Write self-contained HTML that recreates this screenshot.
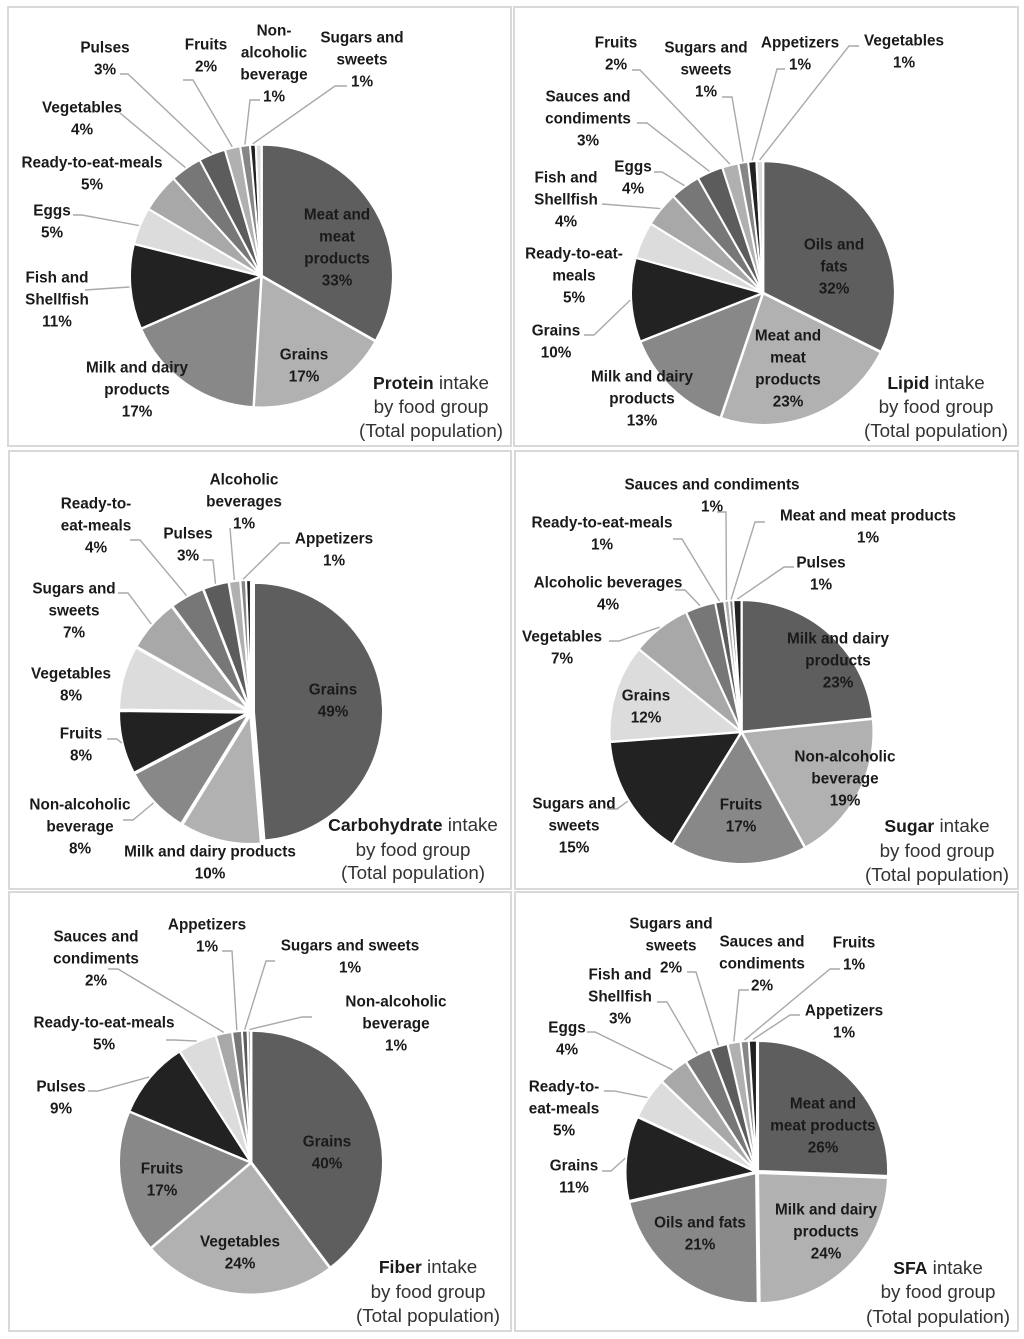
<!DOCTYPE html>
<html lang="en">
<head>
<meta charset="utf-8">
<title>Nutrient intake by food group</title>
<style>
html,body{margin:0;padding:0;background:#fff;width:1024px;height:1339px;overflow:hidden}
svg{display:block;filter:blur(0.35px)}
text{font-family:"Liberation Sans",sans-serif;fill:#1a1a1a}
.lab{font-size:15.3px;font-weight:700;text-anchor:middle}
.ttl{font-size:18.8px;text-anchor:middle;fill:#333}
.ttl tspan{font-weight:700;font-size:17.6px;fill:#1a1a1a}
.panel{fill:#fff;stroke:#d9d9d9;stroke-width:2}
</style>
</head>
<body>
<svg id="figure" width="1024" height="1339" viewBox="0 0 1024 1339" xmlns="http://www.w3.org/2000/svg">
<rect x="0" y="0" width="1024" height="1339" fill="#fff"/>
<rect class="panel" x="8" y="7" width="503" height="439"/>
<rect class="panel" x="514" y="7" width="504" height="439"/>
<rect class="panel" x="9" y="451" width="502" height="438"/>
<rect class="panel" x="515" y="451" width="503" height="438"/>
<rect class="panel" x="9" y="892" width="502" height="439"/>
<rect class="panel" x="515" y="892" width="503" height="439"/>
<g id="chart-protein"></g>
<g id="chart-lipid"></g>
<g id="chart-carbohydrate"></g>
<g id="chart-sugar"></g>
<g id="chart-fiber"></g>
<g id="chart-sfa"></g>
<g><text class="ttl" x="431" y="389"><tspan>Protein</tspan> intake</text><text class="ttl" x="431" y="413">by food group</text><text class="ttl" x="431" y="437">(Total population)</text></g>
<g><text class="ttl" x="936" y="389"><tspan>Lipid</tspan> intake</text><text class="ttl" x="936" y="413">by food group</text><text class="ttl" x="936" y="437">(Total population)</text></g>
<g><text class="ttl" x="413" y="831"><tspan>Carbohydrate</tspan> intake</text><text class="ttl" x="413" y="856">by food group</text><text class="ttl" x="413" y="879">(Total population)</text></g>
<g><text class="ttl" x="937" y="832"><tspan>Sugar</tspan> intake</text><text class="ttl" x="937" y="857">by food group</text><text class="ttl" x="937" y="881">(Total population)</text></g>
<g><text class="ttl" x="428" y="1273"><tspan>Fiber</tspan> intake</text><text class="ttl" x="428" y="1298">by food group</text><text class="ttl" x="428" y="1322">(Total population)</text></g>
<g><text class="ttl" x="938" y="1274"><tspan>SFA</tspan> intake</text><text class="ttl" x="938" y="1298">by food group</text><text class="ttl" x="938" y="1323">(Total population)</text></g>
</svg>
<script>
const sliceShades = ['#5e5e5e','#b1b1b1','#888888','#222222','#dcdcdc','#a8a8a8','#777777','#5c5c5c','#b0b0b0','#868686','#222222','#dcdcdc'];

// Protein
const proteinCategories = ['Meat and|meat|products','Grains','Milk and dairy|products','Fish and|Shellfish','Eggs','Ready-to-eat-meals','Vegetables','Pulses','Fruits','Non-|alcoholic|beverage','Sugars and|sweets',''];
const proteinValues = [33.3,17.7,17.5,10.5,4.6,4.8,3.9,3.3,1.9,1.2,0.7,0.7];
const proteinPrinted = ['33%','17%','17%','11%','5%','5%','4%','3%','2%','1%','1%',''];

// Lipid
const lipidCategories = ['Oils and|fats','Meat and|meat|products','Milk and dairy|products','Grains','Ready-to-eat-|meals','Fish and|Shellfish','Eggs','Sauces and|condiments','Fruits','Sugars and|sweets','Appetizers','Vegetables'];
const lipidValues = [32.4,22.8,13.8,10.3,4.5,4.3,3.7,3.2,2,1.2,1,0.8];
const lipidPrinted = ['32%','23%','13%','10%','5%','4%','4%','3%','2%','1%','1%','1%'];

// Carbohydrate
const carbohydrateCategories = ['Grains','Milk and dairy products','Non-alcoholic|beverage','Fruits','Vegetables','Sugars and|sweets','Ready-to-|eat-meals','Pulses','Alcoholic|beverages','Appetizers',''];
const carbohydrateValues = [48.7,10.1,8.5,7.9,8,6.6,4.3,3.2,1.4,0.7,0.6];
const carbohydratePrinted = ['49%','10%','8%','8%','8%','7%','4%','3%','1%','1%',''];

// Sugar
const sugarCategories = ['Milk and dairy|products','Non-alcoholic|beverage','Fruits','Sugars and|sweets','Grains','Vegetables','Alcoholic beverages','Ready-to-eat-meals','Sauces and condiments','Meat and meat products','Pulses'];
const sugarValues = [23.4,18.6,16.8,15,12,7.3,3.7,1.1,0.6,0.5,1];
const sugarPrinted = ['23%','19%','17%','15%','12%','7%','4%','1%','1%','1%','1%'];

// Fiber
const fiberCategories = ['Grains','Vegetables','Fruits','Pulses','Ready-to-eat-meals','Sauces and|condiments','Appetizers','Sugars and sweets','Non-alcoholic|beverage'];
const fiberValues = [39.8,24,17.6,9.6,4.8,2,1.2,0.7,0.4];
const fiberPrinted = ['40%','24%','17%','9%','5%','2%','1%','1%','1%'];

// SFA
const sfaCategories = ['Meat and|meat products','Milk and dairy|products','Oils and fats','Grains','Ready-to-|eat-meals','Eggs','Fish and|Shellfish','Sugars and|sweets','Sauces and|condiments','Fruits','Appetizers'];
const sfaValues = [25.6,24.2,21.6,10.5,5.2,3.8,3.3,2.2,1.6,1,1];
const sfaPrinted = ['26%','24%','21%','11%','5%','4%','3%','2%','2%','1%','1%'];

// Label placement: [label x, first-line y, leader start x, start y, elbow x, elbow y]
const proteinPlacement = [[337,214],[304,354],[137,367],[57,277,85,290],[52,210,73,215,82,215],[92,162],[82,107,120,113],[105,47,120,74,128,74],[206,44,183,80,193,80],[274,30,260,100,250,100],[362,37,347,86,335,86],null];
const lipidPlacement = [[834,244],[788,335],[642,376],[556,330,584,335,594,335],[574,253],[566,177,602,204],[633,166,654,172,662,172],[588,96,637,123,647,123],[616,42,632,70,640,70],[706,47,722,97,732,97],[800,42,785,69,777,69],[904,40,859,46,849,46]];
const carbohydratePlacement = [[333,689],[210,851],[80,804,123,820,133,820],[81,733,107,739,117,739],[71,673],[74,588,118,593,128,593],[96,503,130,540,140,540],[188,533,203,560,213,560],[244,479,230,528],[334,538,290,543,280,543],null];
const sugarPlacement = [[838,638],[845,756],[741,804],[574,803,607,809,617,809],[646,695],[562,636,609,641,619,641],[608,582,675,590,685,590],[602,522,673,539,682,539],[712,484,717,512,726,512],[868,515,765,522,755,522],[821,562,794,567,784,567]];
const fiberPlacement = [[327,1141],[240,1241],[162,1168],[61,1086,88,1091,98,1091],[104,1022,166,1040,175,1040],[96,936,108,969,118,969],[207,924,222,951,232,951],[350,945,275,961,266,961],[396,1001,312,1017,302,1017]];
const sfaPlacement = [[823,1103],[826,1209],[700,1222],[574,1165,602,1171,611,1171],[564,1086,604,1091,614,1091],[567,1027,587,1032,595,1032],[620,974,657,1002,667,1002],[671,923,687,972,696,972],[762,941,749,990,739,990],[854,942,840,969,830,969],[844,1010,800,1015,790,1015]];

const SVG_NS = 'http://www.w3.org/2000/svg';

function angleScale(values) {
  const total = values.reduce(function (a, b) { return a + b; }, 0);
  return function (v) { return (v / total) * Math.PI * 2; };
}

function polar(cx, cy, r, a) {
  return [cx + r * Math.sin(a), cy - r * Math.cos(a)];
}

function slug(s) {
  return s.replace(/\|/g, ' ').toLowerCase().replace(/[^a-z0-9]+/g, '-').replace(/^-|-$/g, '');
}

function drawPie(id, cx, cy, r, explode, categories, values, printed, placement) {
  const host = document.getElementById(id);
  const toAngle = angleScale(values);
  const leaderLayer = document.createElementNS(SVG_NS, 'g');
  const labelLayer = document.createElementNS(SVG_NS, 'g');
  let start = 0;
  values.forEach(function (v, i) {
    const sweep = toAngle(v);
    const end = start + sweep;
    const mid = start + sweep / 2;
    const c = polar(cx, cy, explode, mid);
    const p0 = polar(c[0], c[1], r, start);
    const p1 = polar(c[0], c[1], r, end);
    const name = slug(categories[i]) || 'other';
    const path = document.createElementNS(SVG_NS, 'path');
    path.setAttribute('d', 'M' + c[0] + ' ' + c[1] + 'L' + p0[0] + ' ' + p0[1] + 'A' + r + ' ' + r + ' 0 ' + (sweep > Math.PI ? 1 : 0) + ' 1 ' + p1[0] + ' ' + p1[1] + 'Z');
    path.setAttribute('fill', sliceShades[i % sliceShades.length]);
    path.setAttribute('stroke', '#fff');
    path.setAttribute('stroke-width', '2');
    path.setAttribute('stroke-linejoin', 'round');
    
    
    host.appendChild(path);

    const place = placement[i];
    if (place) {
      if (place.length > 2) {
        const rim = polar(cx, cy, r + explode + 1, mid);
        let pts = place[2] + ',' + place[3];
        if (place.length > 4) {
          pts += ' ' + place[4] + ',' + place[5];
        }
        pts += ' ' + rim[0] + ',' + rim[1];
        const line = document.createElementNS(SVG_NS, 'polyline');
        line.setAttribute('points', pts);
        line.setAttribute('fill', 'none');
        line.setAttribute('stroke', '#a9a9a9');
        line.setAttribute('stroke-width', '1.4');
        
        
        leaderLayer.appendChild(line);
      }
      const lines = categories[i].split('|').concat([printed[i]]);
      const label = document.createElementNS(SVG_NS, 'text');
      label.setAttribute('class', 'lab');
      
      
      lines.forEach(function (t, j) {
        const span = document.createElementNS(SVG_NS, 'tspan');
        span.setAttribute('x', place[0]);
        span.setAttribute('y', place[1] + 5.5 + j * 22);
        span.textContent = t;
        label.appendChild(span);
      });
      labelLayer.appendChild(label);
    }
    start = end;
  });
  host.appendChild(leaderLayer);
  host.appendChild(labelLayer);
}

drawPie('chart-protein', 261.5, 276, 131, 0.5, proteinCategories, proteinValues, proteinPrinted, proteinPlacement);
drawPie('chart-lipid', 763, 293, 131.5, 0.5, lipidCategories, lipidValues, lipidPrinted, lipidPlacement);
drawPie('chart-carbohydrate', 251, 712, 129, 3, carbohydrateCategories, carbohydrateValues, carbohydratePrinted, carbohydratePlacement);
drawPie('chart-sugar', 741.5, 732, 131.5, 0.5, sugarCategories, sugarValues, sugarPrinted, sugarPlacement);
drawPie('chart-fiber', 251, 1162.5, 131.5, 0.5, fiberCategories, fiberValues, fiberPrinted, fiberPlacement);
drawPie('chart-sfa', 757, 1172, 130, 1.5, sfaCategories, sfaValues, sfaPrinted, sfaPlacement);
</script>
</body>
</html>
